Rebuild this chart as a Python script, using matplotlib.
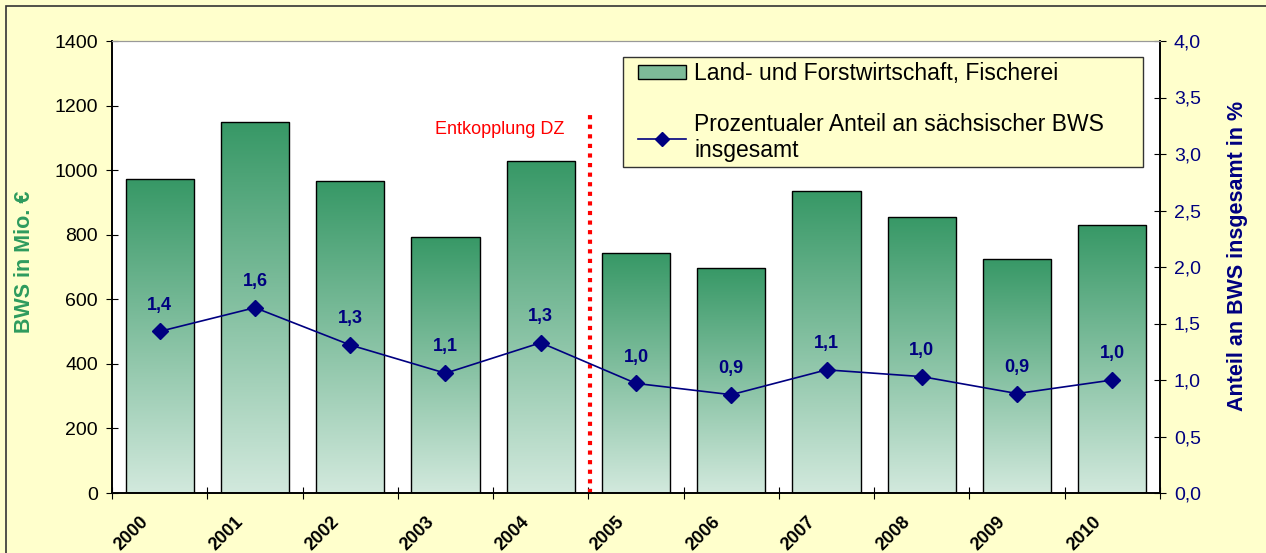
import numpy as np
import matplotlib.pyplot as plt
from matplotlib.colors import LinearSegmentedColormap
from matplotlib.lines import Line2D
from matplotlib.patches import Patch, Rectangle
from matplotlib.legend_handler import HandlerPatch, HandlerLine2D
import matplotlib.transforms as mtransforms

plt.rcParams['font.family'] = ['Liberation Sans', 'DejaVu Sans']

# Data
years = ["2000", "2001", "2002", "2003", "2004", "2005",
         "2006", "2007", "2008", "2009", "2010"]
bws = [972, 1149, 966, 793, 1028, 743, 697, 935, 855, 725, 830]
anteil = [1.43, 1.64, 1.31, 1.06, 1.33, 0.97, 0.87, 1.09, 1.03, 0.88, 1.0]
anteil_labels = ["1,4", "1,6", "1,3", "1,1", "1,3", "1,0",
                 "0,9", "1,1", "1,0", "0,9", "1,0"]

bg = "#FFFFCC"
navy = "#000080"
green_dark = "#379866"
green_light = "#D2E9DD"
cmap = LinearSegmentedColormap.from_list("grn", [green_light, green_dark])

W, H = 1266, 553
fig = plt.figure(figsize=(W / 100, H / 100), dpi=100)
fig.patch.set_facecolor(bg)
fig.patches.append(Rectangle((6 / W, -0.05), 1.1, 1 - 6 / H + 0.05, transform=fig.transFigure,
                             fill=False, edgecolor="#333333", linewidth=1.2))

ax = fig.add_axes([112 / W, 1 - 493 / H, 1048 / W, 452 / H])
ax.set_facecolor("white")
x = np.arange(len(years))

bars = ax.bar(x, bws, width=0.715, color="none", edgecolor="black", linewidth=1.0, zorder=3)
grad = np.linspace(0, 1, 256).reshape(-1, 1)
for b in bars:
    x0, w, h = b.get_x(), b.get_width(), b.get_height()
    im = ax.imshow(grad, cmap=cmap, aspect="auto", origin="lower",
                   extent=[x0, x0 + w, 0, h], zorder=2)
    im.set_clip_path(b)

ax.set_xlim(-0.5, len(years) - 0.5)
ax.set_ylim(0, 1400)
ax.set_yticks(range(0, 1401, 200))
ax.tick_params(axis="y", labelsize=14, direction="inout", length=8, pad=6)
ax.set_xticks(np.arange(-0.5, len(years), 1.0))
ax.set_xticklabels([])
ax.tick_params(axis="x", which="major", direction="inout", length=8)
ax.set_xticks(x, minor=True)
ax.set_xticklabels(years, minor=True, rotation=45, ha="right", va="center",
                   rotation_mode="anchor", fontsize=13, fontweight="bold")
ax.tick_params(axis="x", which="minor", length=0, pad=19)
offset = mtransforms.ScaledTranslation(-0.14, 0, fig.dpi_scale_trans)
for lbl in ax.get_xticklabels(minor=True):
    lbl.set_transform(lbl.get_transform() + offset)

ax.spines["top"].set_color("#999999")
for s in ["left", "right", "bottom"]:
    ax.spines[s].set_color("black")
    ax.spines[s].set_linewidth(1.2)

# Entkopplung line
ax.plot([4.52, 4.52], [0, 1186], color="#FF0000", linestyle=(0, (1, 1.3)),
        linewidth=3, zorder=5)
ax.text(3.57, 1126, "Entkopplung DZ", color="#FF0000", fontsize=13, ha="center", va="center")

ax2 = ax.twinx()
ax2.plot(x, anteil, color=navy, linewidth=1.2, marker="D", markersize=8, zorder=6)
for xi, yi, t in zip(x, anteil, anteil_labels):
    ax2.annotate(t, (xi, yi), xytext=(0, 19), textcoords="offset points",
                 ha="center", va="center", color=navy, fontsize=13, fontweight="bold")
ax2.set_ylim(0, 4)
ax2.set_yticks(np.arange(0, 4.01, 0.5))
ax2.set_yticklabels([f"{v:.1f}".replace(".", ",") for v in np.arange(0, 4.01, 0.5)])
ax2.tick_params(axis="y", labelsize=14, labelcolor=navy, direction="inout", length=8, pad=6)
for s in ["left", "right", "bottom"]:
    ax2.spines[s].set_color("black")
    ax2.spines[s].set_linewidth(1.2)
ax2.spines["top"].set_color("#999999")

fig.text(25 / W, 1 - 262 / H, "BWS in Mio. €", rotation=90, ha="center", va="center",
         color="#2E9B5E", fontsize=15.5, fontweight="bold")
fig.text(1238 / W, 1 - 256 / H, "Anteil an BWS insgesamt in %", rotation=90, ha="center",
         va="center", color=navy, fontsize=15.5, fontweight="bold")

bar_handle = Patch(facecolor="#7DBB98", edgecolor="black")
line_handle = Line2D([0], [0], color=navy, marker="D", markersize=7, linewidth=1.2)
labels = ["Land- und Forstwirtschaft, Fischerei",
          "Prozentualer Anteil an sächsischer BWS\ninsgesamt"]
leg = ax2.legend([bar_handle, line_handle], labels, loc="upper left",
                 bbox_to_anchor=((623 - 112) / 1048, (493 - 57) / 452 - 0.01, 520 / 1048, 0.01),
                 mode="expand", fontsize=16.5, frameon=True, fancybox=False, facecolor=bg,
                 edgecolor="black", framealpha=1, handlelength=2.55, handleheight=0.6,
                 handletextpad=0.35, labelspacing=1.2, borderpad=0.22, borderaxespad=0,
                 handler_map={Patch: HandlerPatch(xpad=0.45),
                              Line2D: HandlerLine2D(xpad=0.45)})
leg.get_frame().set_linewidth(1.0)
leg.get_frame().set_edgecolor("#333333")

fig.savefig("out.png", dpi=100, facecolor=bg)
